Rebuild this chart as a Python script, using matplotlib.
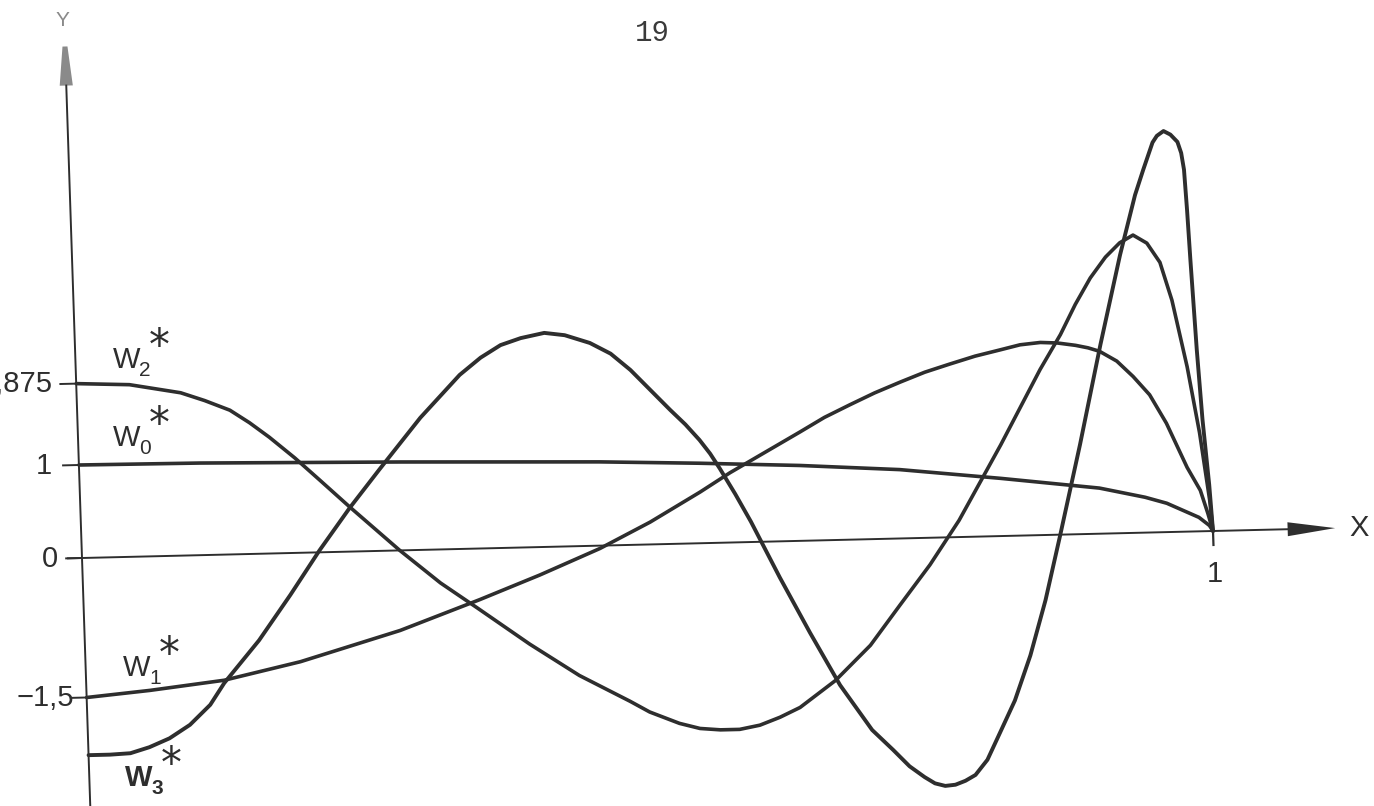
import numpy as np
import matplotlib
matplotlib.use("Agg")
import matplotlib.pyplot as plt
from matplotlib.transforms import Affine2D

# sampled curves W0*..W3* on 0 <= x <= 1
w0_x = [0.0, 0.107, 0.284, 0.460, 0.548, 0.637, 0.725, 0.814, 0.901, 0.941, 0.960, 0.988, 0.997, 1.0]
w0_y = [1.0, 0.99, 0.95, 0.90, 0.86, 0.81, 0.74, 0.62, 0.49, 0.38, 0.31, 0.15, 0.06, 0.0]

w1_x = [0.0, 0.056, 0.122, 0.190, 0.279, 0.350, 0.404, 0.458, 0.503, 0.548, 0.575, 0.638,
        0.660, 0.683, 0.705, 0.728, 0.750, 0.772, 0.795, 0.817, 0.835, 0.853, 0.868, 0.884,
        0.895, 0.905, 0.920, 0.934, 0.948, 0.962, 0.979, 0.990, 0.996, 1.0]
w1_y = [-1.5, -1.44, -1.35, -1.17, -0.86, -0.55, -0.30, -0.03, 0.24, 0.55, 0.75, 1.17,
        1.32, 1.45, 1.57, 1.68, 1.78, 1.86, 1.94, 2.00, 2.05, 2.07, 2.06, 2.03,
        2.00, 1.96, 1.85, 1.68, 1.48, 1.17, 0.69, 0.44, 0.19, 0.0]

w2_x = [0.0, 0.047, 0.092, 0.113, 0.135, 0.152, 0.169, 0.191, 0.212, 0.238, 0.281, 0.316,
        0.348, 0.393, 0.436, 0.480, 0.497, 0.523, 0.541, 0.559, 0.576, 0.594, 0.612, 0.630,
        0.662, 0.694, 0.721, 0.749, 0.776, 0.815, 0.852, 0.871, 0.885, 0.899, 0.913, 0.926,
        0.938, 0.950, 0.961, 0.9705, 0.982, 0.991, 0.998, 1.0]
w2_y = [1.875, 1.85, 1.75, 1.66, 1.55, 1.41, 1.25, 1.02, 0.78, 0.48, 0.0, -0.36,
        -0.64, -1.04, -1.39, -1.68, -1.80, -1.93, -1.99, -2.01, -2.01, -1.97, -1.89, -1.79,
        -1.51, -1.14, -0.72, -0.29, 0.18, 0.98, 1.78, 2.15, 2.47, 2.75, 2.97, 3.12,
        3.20, 3.11, 2.90, 2.49, 1.77, 1.06, 0.33, 0.0]

w3_x = [0.0, 0.019, 0.037, 0.054, 0.072, 0.0905, 0.109, 0.122, 0.154, 0.183, 0.210, 0.238,
        0.265, 0.303, 0.339, 0.358, 0.376, 0.394, 0.415, 0.433, 0.455, 0.473, 0.490, 0.524,
        0.537, 0.549, 0.558, 0.566, 0.579, 0.592, 0.616, 0.641, 0.666, 0.693, 0.711, 0.725,
        0.738, 0.747, 0.756, 0.765, 0.774, 0.783, 0.794, 0.806, 0.820, 0.835, 0.850, 0.865,
        0.885, 0.906, 0.926, 0.941, 0.949, 0.958, 0.962, 0.968, 0.974, 0.980, 0.983, 0.985,
        0.9865, 0.988, 0.991, 0.994, 0.998, 1.0]
w3_y = [-2.12, -2.12, -2.11, -2.05, -1.96, -1.82, -1.61, -1.38, -0.93, -0.45, 0.02, 0.47,
        0.87, 1.42, 1.87, 2.05, 2.18, 2.25, 2.30, 2.27, 2.18, 2.06, 1.88, 1.44,
        1.28, 1.11, 0.96, 0.80, 0.52, 0.22, -0.39, -0.99, -1.56, -2.05, -2.27, -2.45,
        -2.57, -2.64, -2.67, -2.66, -2.62, -2.56, -2.40, -2.11, -1.77, -1.29, -0.70, 0.0,
        0.96, 2.03, 2.99, 3.63, 3.90, 4.19, 4.26, 4.31, 4.27, 4.19, 4.07, 3.89,
        3.46, 2.92, 1.95, 1.20, 0.50, 0.0]

y_ticks = [1.875, 1.0, 0.0, -1.5]
y_tick_labels = ["1,875", "1", "0", "\u22121,5"]
label_gap = [0.021, 0.024, 0.021, 0.011]

W, H = 1374, 806
fig = plt.figure(figsize=(W / 100, H / 100), dpi=100)
ax = fig.add_axes([0, 0, 1, 1])
ax.set_xlim(-82 / 1131, (W - 82) / 1131)
ax.set_ylim(-(H - 558) / 93, 558 / 93)
ax.axis("off")

# the sheet is slightly skewed: shear everything about the origin
ox, oy = 82, H - 558
shear = Affine2D(np.array([[1.0, -0.0333, 0.0], [0.02387, 1.0, 0.0], [0.0, 0.0, 1.0]]))
tr = ax.transData + Affine2D().translate(-ox, -oy) + shear + Affine2D().translate(ox, oy)

ink = "#2e2e2e"
font = ["Liberation Sans", "DejaVu Sans"]

# axes
ax.plot([0, 0], [-2.7, 5.08], color=ink, lw=1.4, transform=tr)
ax.fill([-0.0058, 0.0058, 0.0022, -0.0022], [5.08, 5.08, 5.5, 5.5],
        color="#8a8a8a", lw=0, transform=tr)
ax.plot([-0.0124, 1.072], [0, 0], color=ink, lw=1.4, transform=tr)
ax.fill([1.066, 1.108, 1.066], [0.075, 0.0, -0.075], color=ink, lw=0, transform=tr)
ax.plot([1, 1], [0, -0.15], color=ink, lw=1.6, transform=tr)

for v, lab, g in zip(y_ticks, y_tick_labels, label_gap):
    ax.plot([-0.014, 0], [v, v], color=ink, lw=1.4, transform=tr)
    ax.text(-g, v, lab, ha="right", va="center", fontsize=21, family=font,
            color=ink, transform=tr)

ax.text(1.0, -0.46, "1", ha="center", va="center", fontsize=21, family=font,
        color=ink, transform=tr)
ax.text(1.129, 0.0, "X", ha="center", va="center", fontsize=21, family=font,
        color=ink, transform=tr)
fig.text(62 / W, 1 - 20 / H, "Y", ha="center", va="center", fontsize=15,
         family=font, color="#8a8a8a")
fig.text(652 / W, 1 - 33 / H, "19", ha="center", va="center", fontsize=21,
         family=["Liberation Mono", "DejaVu Sans Mono"], color="#3a3a3a")

# curves
for xs, ys, lw in [(w0_x, w0_y, 2.6), (w1_x, w1_y, 2.6), (w2_x, w2_y, 2.6), (w3_x, w3_y, 2.8)]:
    ax.plot(xs, ys, color=ink, lw=lw, solid_joinstyle="round",
            solid_capstyle="round", transform=tr)

# curve names: W, subscript, star
names = [("0", 113, 446), ("1", 123, 676), ("2", 113, 368), ("3", 125, 786)]
for sub, px, py in names:
    weight = "bold" if sub == "3" else "normal"
    fig.text(px / W, 1 - py / H, "W", ha="left", va="baseline", fontsize=21,
             family=font, color=ink, weight=weight)
    fig.text((px + 26) / W, 1 - (py + 8) / H, sub, ha="left", va="baseline",
             fontsize=15, family=font, color=ink, weight=weight)
    fig.text((px + 46) / W, 1 - (py - 42) / H, "*", ha="center", va="top",
             fontsize=30, family=["DejaVu Sans"], color=ink)

fig.savefig("out.png", dpi=100, facecolor="white")
